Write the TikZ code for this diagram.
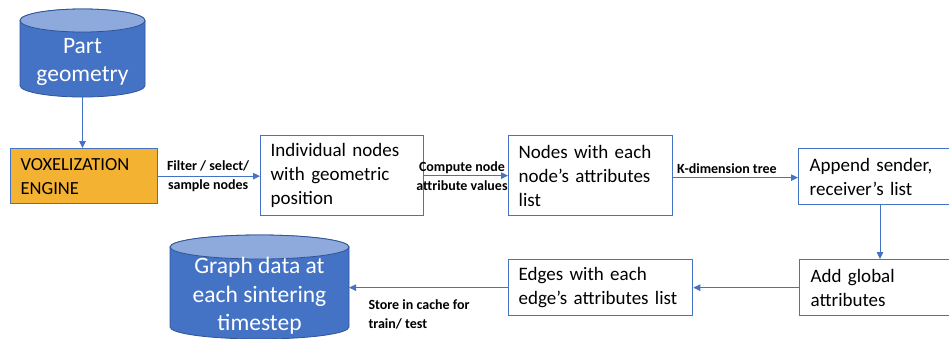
\documentclass[tikz,border=0pt]{standalone}
\usepackage{fontspec}
\setmainfont{Carlito}
\usetikzlibrary{arrows.meta}
\definecolor{officeblue}{HTML}{4472C4}
\definecolor{drumtop}{HTML}{8EA9DB}
\definecolor{drumedge}{HTML}{2F5597}
\definecolor{enginefill}{HTML}{F4B233}

\begin{document}
\begin{tikzpicture}[x=1pt,y=-1pt,
  stepbox/.style={draw=officeblue, line width=1.3pt, fill=white, anchor=north west,
    inner xsep=10pt, inner ysep=0pt, align=left, font=\fontsize{19}{24}\selectfont},
  flow/.style={draw=officeblue, line width=0.9pt, -{Triangle[length=7pt,width=6.5pt]}},
  steplabel/.style={font=\bfseries\fontsize{14}{19}\selectfont, align=center, inner sep=0pt},
  drumtext/.style={text=white, align=center, inner sep=0pt, font=\fontsize{23.5}{28.5}\selectfont},
  drumbody/.style={draw=drumedge, fill=officeblue, line width=0.8pt},
  drumlid/.style={draw=drumedge, fill=drumtop, line width=0.8pt},
  drumspan/.style={inner sep=0pt, outer sep=0pt}]

\useasboundingbox (0,0) rectangle (949,338);
\clip (0,0) rectangle (949,338);

% --- part geometry drum
\path[drumbody] (20,20.5) -- (20,85.5)
  arc[start angle=180, end angle=360, x radius=62.5pt, y radius=11.5pt]
  -- (145,20.5)
  arc[start angle=0, end angle=180, x radius=62.5pt, y radius=11.5pt] -- cycle;
\path[drumlid] (82.5,20.5) ellipse[x radius=62.5pt, y radius=11.5pt];
\node[drumspan, minimum width=125pt, minimum height=88pt] (geom) at (82.5,53) {};
\node[drumtext] (geomtext) at (82.5,62) {Part\\geometry};

% --- graph data drum
\path[drumbody] (170,247) -- (170,327)
  arc[start angle=180, end angle=360, x radius=89.5pt, y radius=12pt]
  -- (349,247)
  arc[start angle=0, end angle=180, x radius=89.5pt, y radius=12pt] -- cycle;
\path[drumlid] (259.5,247) ellipse[x radius=89.5pt, y radius=12pt];
\node[drumspan, minimum width=179pt, minimum height=104pt] (graphdb) at (259.5,287) {};
\node[drumtext] (graphtext) at (259.5,296) {Graph data at\\each sintering\\timestep};

% --- processing steps
\node[stepbox, fill=enginefill, minimum width=147pt, minimum height=55pt, text width=127pt,
      font=\fontsize{18.5}{24}\selectfont] (engine) at (10,148) {VOXELIZATION\\ENGINE};
\node[stepbox, minimum width=163pt, minimum height=80pt, text width=143pt] (nodespos) at (260,135)
  {Individual nodes\\with geometric\\position};
\node[stepbox, minimum width=164pt, minimum height=80pt, text width=144pt] (nodeattr) at (508,135)
  {Nodes with each\\node’s attributes\\list};
\node[stepbox, minimum width=170pt, minimum height=56pt, text width=150pt, inner xsep=11pt] (sendrecv) at (798,148)
  {Append sender,\\receiver’s list};
\node[stepbox, minimum width=170pt, minimum height=56pt, text width=150pt, inner xsep=11pt] (globalattr) at (799,259)
  {Add global\\attributes};
\node[stepbox, minimum width=184pt, minimum height=56pt, text width=164pt] (edgeattr) at (508,259)
  {Edges with each\\edge’s attributes list};

% --- connectors
\draw[flow] (geom.south) -- (geom.south |- engine.north);
\draw[flow] (engine.east) -- node[steplabel, pos=0.49] (lfilter) {Filter / select/\\sample nodes}
  (engine.east -| nodespos.west);
\draw[flow] (nodespos.east) -- node[steplabel, pos=0.45] (lcompute) {Compute node\\attribute values}
  (nodespos.east -| nodeattr.west);
\draw[flow] ([yshift=-2pt]nodeattr.east) -- node[steplabel, pos=0.43, above=4pt] (lkdtree) {K-dimension tree}
  ([yshift=-2pt]nodeattr.east -| sendrecv.west);
\draw[flow] ([xshift=82pt]sendrecv.south west) coordinate (drop) -- (drop |- globalattr.north);
\draw[flow] (globalattr.west) -- (globalattr.west -| edgeattr.east);
\draw[flow] (edgeattr.west) -- node[steplabel, align=left, anchor=north west, pos=0.88, yshift=-12pt] (lstore)
  {Store in cache for\\train/ test} (edgeattr.west -| graphdb.east);
\end{tikzpicture}
\end{document}
